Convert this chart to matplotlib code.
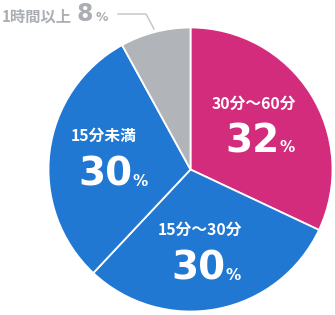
import matplotlib
matplotlib.use("Agg")
import matplotlib.pyplot as plt
from matplotlib.lines import Line2D

# ---- data ----
categories = ["30分～60分", "15分～30分", "15分未満", "1時間以上"]
values = [32, 30, 30, 8]
value_labels = ["32", "30", "30", "8"]
colors = ["#D42C7C", "#2178D3", "#2178D3", "#B1B5B9"]

W, H = 335, 315
fig = plt.figure(figsize=(W / 100, H / 100), dpi=100)
fig.patch.set_facecolor("white")

cx, cy, r = 190.5, 169.5, 142.0
ax = fig.add_axes([(cx - r) / W, (H - cy - r) / H, 2 * r / W, 2 * r / H])
ax.pie(values, colors=colors, startangle=90, counterclock=False, radius=1.0,
       wedgeprops=dict(edgecolor="white", linewidth=1.3))
ax.set_xlim(-1, 1)
ax.set_ylim(-1, 1)
ax.axis("off")

def P(x, y):
    return (x / W, 1 - y / H)

cjk = ["Noto Sans CJK JP", "DejaVu Sans"]
num = ["DejaVu Sans"]

renderer = fig.canvas.get_renderer()

def number_with_pct(x, base, txt, color, size, psize, gap):
    t = fig.text(*P(x, base), txt, color=color, fontsize=size,
                 family=num, weight="bold", ha="left", va="baseline")
    bb = t.get_window_extent(renderer=renderer)
    fig.text(bb.x1 / W + gap / W, 1 - base / H, "%", color=color,
             fontsize=psize, family=num, weight="bold",
             ha="left", va="baseline")

lab_pos = [(254, 104), (200, 230), (104, 136)]
num_pos = [(225, 152), (171, 280), (78, 186)]

for i in range(3):
    lx, ly = lab_pos[i]
    fig.text(*P(lx, ly), categories[i], color="white", fontsize=11.3,
             family=cjk, weight="bold", ha="center", va="center")
    nx, nb = num_pos[i]
    number_with_pct(nx, nb, value_labels[i], "white", 28, 11, 0.5)

gray_txt = "#ABAFB3"
fig.text(*P(2, 17), categories[3], color=gray_txt, fontsize=11,
         family=cjk, weight="bold", ha="left", va="center")
number_with_pct(76, 21, value_labels[3], gray_txt, 17, 9, 3)

xs = [118, 146, 154]
ys = [14, 14, 29]
fig.add_artist(Line2D([x / W for x in xs], [1 - y / H for y in ys],
                      color="#BFC3C6", lw=1.0))

fig.savefig("out.png", dpi=100)
